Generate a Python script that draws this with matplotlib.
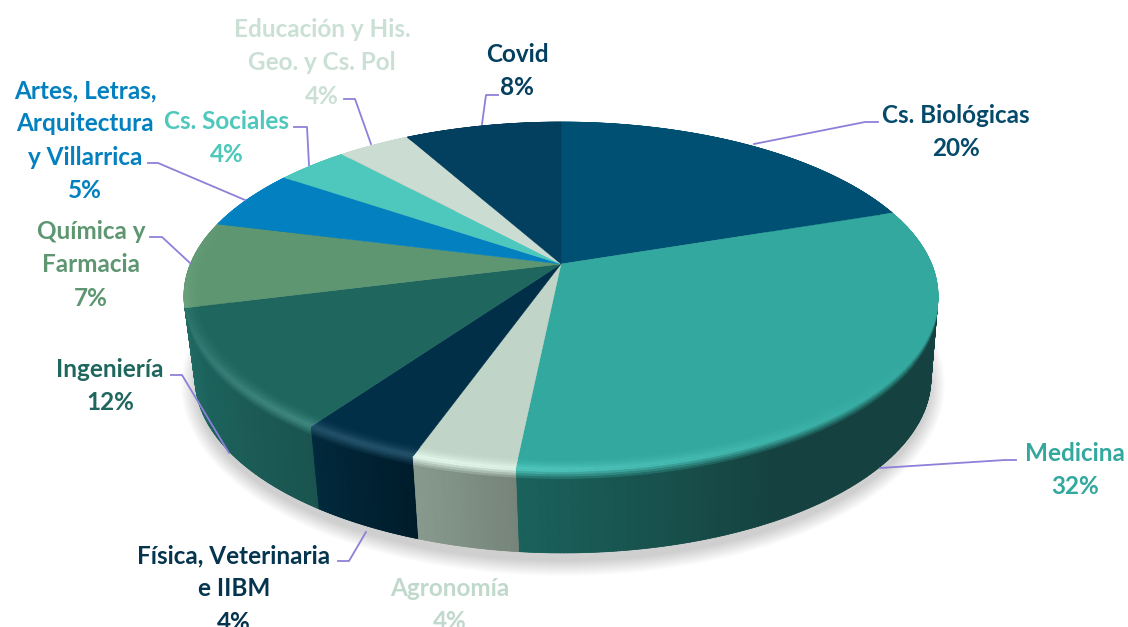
import numpy as np
import matplotlib
matplotlib.use('Agg')
import matplotlib.pyplot as plt
from matplotlib.collections import PolyCollection
from matplotlib.colors import to_rgb
from matplotlib.patches import Polygon

plt.rcParams['font.family'] = ['Lato', 'DejaVu Sans']

# slices go clockwise from 12 o'clock
categories = ['Cs. Biológicas', 'Medicina', 'Agronomía', 'Física, Veterinaria\ne IIBM', 'Ingeniería',
              'Química y\nFarmacia', 'Artes, Letras,\nArquitectura\ny Villarrica', 'Cs. Sociales',
              'Educación y His.\nGeo. y Cs. Pol', 'Covid']
values = [19.8, 31.8, 3.75, 4.35, 11.3, 8.0, 5.6, 3.7, 3.7, 8.0]
pct_labels = ['20%', '32%', '4%', '4%', '12%', '7%', '5%', '4%', '4%', '8%']

top_colors = ['#005073', '#33a89e', '#c0d5c8', '#012f48', '#1f665f',
              '#5d9671', '#0280bf', '#4ec8bc', '#cbdcd2', '#033f5e']
text_colors = ['#054a6b', '#33a89e', '#c0d9cc', '#04344e', '#1f665f',
               '#5d9671', '#0280bf', '#4ec8bc', '#cbe0d4', '#033f5e']
side_start = ['#003347', '#154240', '#76847a', '#001c2b', '#1a544f',
              '#3f6a4e', '#01557f', '#33857d', '#87958c', '#012a3f']
side_end = ['#003347', '#1b625c', '#889a8d', '#012a3c', '#1f6b64',
            '#4a7a5b', '#016699', '#3ca095', '#9aaaa0', '#012a3f']
side_delay = [0, 0.7, 0, 0, 0, 0, 0, 0, 0, 0]

text_pos = [(956, 132), (1075, 470), (450, 605), (234, 589), (110, 386),
            (91, 265), (85, 140.5), (227, 138), (322, 63), (517, 71)]
leaders = [[(754, 144), (865, 122), (878, 122)],
           [(880, 468), (1005, 460), (1016, 460)],
           [(366, 532), (349, 561), (338, 561)],
           [(229, 453), (182, 375), (171, 375)],
           [(190, 263), (162, 237), (150, 237)],
           [(245, 200), (158, 163), (148, 163)],
           [(309, 165), (307, 127), (294, 127)],
           [(371, 144), (355, 99), (344, 99)],
           [(482, 124), (486, 95), (498, 95)]]


def project(theta, r=1.0, level=0.0):
    # level 0 is the top face, level 1 the bottom edge of the pie
    u = r * np.sin(theta)
    v = r * np.cos(theta)
    w = 1 + 0.184 * v
    x0 = 561 + 370.6 * u / w
    y0 = (264 - 119.5 * v) / w
    x1 = 563 + 361.7 * u / w
    y1 = (345.8 - 105.4 * v) / w
    return x0 + (x1 - x0) * level, y0 + (y1 - y0) * level


def highlight(theta):
    return 0.13 * np.exp(-((np.degrees(theta) - 205) / 50) ** 2)


fig = plt.figure(figsize=(11.28, 6.27), dpi=100)
ax = fig.add_axes([0, 0, 1, 1])
ax.set_xlim(0, 1128)
ax.set_ylim(627, 0)
ax.axis('off')

# soft shadow under the pie
t = np.linspace(0, 2 * np.pi, 200)
for grow in range(16, 0, -1):
    ax.fill(563 + (366 + grow) * np.cos(t), 385 + (175 + grow) * np.sin(t),
            color='black', alpha=0.012, lw=0, zorder=1)

edges = np.cumsum([0] + values) / sum(values) * 2 * np.pi
mids = (edges[:-1] + edges[1:]) / 2
levels = np.concatenate([np.linspace(0, 0.14, 6), [1.0]])
rim = np.linspace(0.96, 1.0, 6)

# side walls, back slices first so the front ones cover them
order = np.argsort(-np.cos(mids))
for n, i in enumerate(order):
    th = np.linspace(edges[i], edges[i + 1], max(int(values[i] * 8), 8))
    top = np.array(to_rgb(top_colors[i]))
    a = np.array(to_rgb(side_start[i]))
    b = np.array(to_rgb(side_end[i]))

    # smooth base under the gradient so the quad seams do not show
    x0, y0 = project(th, 1, 0.0)
    x1, y1 = project(th[::-1], 1, 1.0)
    base = (a + b) / 2
    ax.add_patch(Polygon(np.column_stack([np.r_[x0, x1], np.r_[y0, y1]]),
                         facecolor=base, edgecolor='none', zorder=2 + n * 0.01))

    quads = []
    cols = []
    for j in range(len(th) - 1):
        f = (j + 0.5) / (len(th) - 1)
        f = np.clip((f - side_delay[i]) / (1 - side_delay[i]), 0, 1)
        side = a + (b - a) * f
        mid = (th[j] + th[j + 1]) / 2
        edge = np.clip(top + highlight(mid), 0, 1)
        for k in range(len(levels) - 1):
            xa, ya = project(th[j], 1, levels[k])
            xb, yb = project(th[j + 1], 1, levels[k])
            xc, yc = project(th[j + 1], 1, levels[k + 1])
            xd, yd = project(th[j], 1, levels[k + 1])
            quads.append([(xa, ya), (xb, yb), (xc, yc), (xd, yd)])
            w = min(levels[k] / 0.11, 1)
            cols.append(edge + (side - edge) * w)
    ax.add_collection(PolyCollection(quads, facecolors=cols, edgecolors=cols, linewidths=0.5,
                                     zorder=2 + n * 0.01 + 0.005))

for i in range(len(values)):
    th = np.linspace(edges[i], edges[i + 1], max(int(values[i] * 8), 8))
    top = np.array(to_rgb(top_colors[i]))
    xs, ys = project(th)
    hub = project(0.0, 0.0)
    ax.add_patch(Polygon(np.column_stack([np.r_[hub[0], xs], np.r_[hub[1], ys]]),
                         facecolor=top, edgecolor=top, lw=0.3, zorder=3))

    # bevel along the front rim
    quads = []
    cols = []
    for j in range(len(th) - 1):
        mid = (th[j] + th[j + 1]) / 2
        for k in range(len(rim) - 1):
            xa, ya = project(th[j], rim[k])
            xb, yb = project(th[j + 1], rim[k])
            xc, yc = project(th[j + 1], rim[k + 1])
            xd, yd = project(th[j], rim[k + 1])
            quads.append([(xa, ya), (xb, yb), (xc, yc), (xd, yd)])
            w = ((k + 1) / (len(rim) - 1)) ** 1.5
            cols.append(np.clip(top + highlight(mid) * w, 0, 1))
    ax.add_collection(PolyCollection(quads, facecolors=cols, edgecolors=cols, linewidths=0.5, zorder=4))

for line in leaders:
    ax.plot([p[0] for p in line], [p[1] for p in line], color='#8d80d8', lw=1.3, zorder=5)

for name, pct, pos, col in zip(categories, pct_labels, text_pos, text_colors):
    ax.text(pos[0], pos[1], name + '\n' + pct, color=col, fontsize=17.5, fontweight='bold',
            ha='center', va='center', linespacing=1.54, zorder=6)

fig.savefig('out.png', dpi=100)
